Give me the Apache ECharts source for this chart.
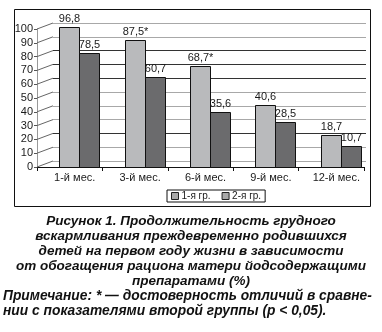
<!DOCTYPE html>
<html>
<head>
<meta charset="utf-8">
<script src="https://cdn.jsdelivr.net/npm/echarts@6/dist/echarts.min.js"></script>
<style>
  html, body { margin: 0; padding: 0; background: #fff; }
  #chart { width: 382px; height: 332px; }
</style>
</head>
<body>
<div id="chart"></div>
<script>
// Breastfeeding duration by month, two groups (%)
const months = ['1-й мес.', '3-й мес.', '6-й мес.', '9-й мес.', '12-й мес.'];
const group1 = [96.8, 87.5, 68.7, 40.6, 18.7];
const group2 = [78.5, 60.7, 35.6, 28.5, 10.7];
// significant difference vs. second group (p < 0.05) -> asterisk
const group1Significant = [false, true, true, false, false];
const group2Significant = [false, false, false, false, false];
const seriesNames = ['1-я гр.', '2-я гр.'];
const yTicks = [0, 10, 20, 30, 40, 50, 60, 70, 80, 90, 100];

const captionLines = [
  'Рисунок 1. Продолжительность грудного',
  'вскармливания преждевременно родившихся',
  'детей на первом году жизни в зависимости',
  'от обогащения рациона матери йодсодержащими',
  'препаратами (%)'
];
const noteLines = [
  'Примечание: * — достоверность отличий в сравне-',
  'нии с показателями второй группы (p < 0,05).'
];

// ---- styling ----
const FONT = '"Liberation Sans", Arial, sans-serif';
const barColors = ['#b9babc', '#6b6b6d'];
const DEPTH_X = 16, DEPTH_Y = 6;          // pseudo-3D wall depth, px
const BAR_RATIO = 0.306;                  // bar width / category band
const gridLineColors = ['#a8a8a8', '#a8a8a8', '#333', '#a8a8a8', '#a8a8a8',
                        '#a8a8a8', '#333', '#333', '#333', '#a8a8a8', '#a8a8a8'];
const yMax = yTicks[yTicks.length - 1];
const yStep = yTicks[1] - yTicks[0];

function fmt(v, star) {
  return v.toFixed(1).replace('.', ',') + (star ? '*' : '');
}

function barRenderer(idx, values, stars) {
  return function (params, api) {
    const cat = api.value(0);
    const v = api.value(1);
    const top = api.coord([cat, v]);
    const base = api.coord([cat, 0]);
    const band = api.size([1, 0])[0];
    const w = Math.round(band * BAR_RATIO);
    const x = Math.round(top[0]) - w + idx * w + 0.5;
    const y = Math.round(top[1]) + 0.5;
    const bottom = Math.round(base[1]) + DEPTH_Y + 0.5;
    return {
      type: 'group',
      children: [
        {
          type: 'rect',
          shape: { x: x, y: y, width: w, height: bottom - y },
          style: { fill: barColors[idx], stroke: '#111', lineWidth: 1 }
        },
        {
          type: 'text',
          x: x + w / 2,
          y: y - 3,
          style: {
            text: fmt(values[params.dataIndex], stars[params.dataIndex]),
            textAlign: 'center',
            textVerticalAlign: 'bottom',
            font: '11px ' + FONT,
            fill: '#1a1a1a'
          }
        }
      ]
    };
  };
}

const chart = echarts.init(document.getElementById('chart'), null, { renderer: 'canvas' });

chart.setOption({
  animation: false,
  backgroundColor: '#fff',
  grid: [
    // back wall (gridlines)
    { left: 53, right: 16, top: 23, bottom: 171 },
    // bars
    { left: 46.5, right: 8.5, top: 23, bottom: 171 },
    // front axes
    { left: 37, right: 18, top: 29, bottom: 165 }
  ],
  xAxis: [
    { gridIndex: 0, type: 'category', data: months, show: false },
    { gridIndex: 1, type: 'category', data: months, show: false },
    {
      gridIndex: 2, type: 'category', data: months,
      axisLine: { show: true, lineStyle: { color: '#111', width: 1 } },
      axisTick: { show: true, length: 4, lineStyle: { color: '#111' }, interval: 0 },
      axisLabel: {
        fontSize: 11, fontFamily: FONT, color: '#1a1a1a', margin: 5,
        interval: 0, padding: [0, 0, 0, 10]
      },
      splitLine: { show: false }
    }
  ],
  yAxis: [
    {
      gridIndex: 0, type: 'value', min: 0, max: yMax, interval: yStep,
      axisLine: { show: false }, axisTick: { show: false }, axisLabel: { show: false },
      splitLine: { show: true, lineStyle: { color: gridLineColors, width: 1.2 } }
    },
    {
      gridIndex: 1, type: 'value', min: 0, max: yMax, interval: yStep, show: false,
      splitLine: { show: false }
    },
    {
      gridIndex: 2, type: 'value', min: 0, max: yMax, interval: yStep,
      axisLine: { show: true, lineStyle: { color: '#999', width: 1 } },
      axisTick: { show: true, length: 3, lineStyle: { color: '#555' } },
      axisLabel: { fontSize: 11, fontFamily: FONT, color: '#1a1a1a', margin: 4 },
      splitLine: { show: false }
    }
  ],
  legend: {
    left: 167, top: 190,
    orient: 'horizontal',
    icon: 'rect',
    itemWidth: 7, itemHeight: 7, itemGap: 11,
    padding: [1, 4, 1, 4],
    borderColor: '#111', borderWidth: 1,
    textStyle: { fontSize: 10, fontFamily: FONT, color: '#1a1a1a', padding: [0, 0, 0, -2] },
    data: seriesNames.map(n => ({
      name: n,
      itemStyle: { color: '#a9a9a9', borderColor: '#222', borderWidth: 1 }
    }))
  },
  series: [
    {
      // side wall lines joining front axis ticks to back wall gridlines
      type: 'custom',
      xAxisIndex: 2, yAxisIndex: 2,
      silent: true,
      data: yTicks.map(v => [months[0], v]),
      renderItem: function (params, api) {
        const p = api.coord([api.value(0), api.value(1)]);
        const x0 = params.coordSys.x;
        return {
          type: 'line',
          shape: { x1: x0, y1: p[1], x2: x0 + DEPTH_X, y2: p[1] - DEPTH_Y },
          style: { stroke: '#666', lineWidth: 1 }
        };
      }
    },
    {
      name: seriesNames[0], type: 'custom',
      xAxisIndex: 1, yAxisIndex: 1,
      itemStyle: { color: barColors[0] },
      data: group1.map((v, i) => [months[i], v]),
      renderItem: barRenderer(0, group1, group1Significant),
      z: 5
    },
    {
      name: seriesNames[1], type: 'custom',
      xAxisIndex: 1, yAxisIndex: 1,
      itemStyle: { color: barColors[1] },
      data: group2.map((v, i) => [months[i], v]),
      renderItem: barRenderer(1, group2, group2Significant),
      z: 5
    }
  ],
  graphic: [
    {
      type: 'rect', silent: true,
      shape: { x: 14.5, y: 9.5, width: 356, height: 197 },
      style: { fill: 'none', stroke: '#111', lineWidth: 1 }
    },
    {
      type: 'text', x: 191, y: 214, silent: true,
      style: {
        text: captionLines.join('\n'),
        font: 'italic bold 13.5px ' + FONT,
        textAlign: 'center', lineHeight: 15, fill: '#111'
      }
    },
    {
      type: 'text', x: 3, y: 289, silent: true,
      style: {
        text: noteLines.join('\n'),
        font: 'italic bold 13.8px ' + FONT,
        textAlign: 'left', lineHeight: 15, fill: '#111'
      }
    }
  ]
});
</script>
</body>
</html>
